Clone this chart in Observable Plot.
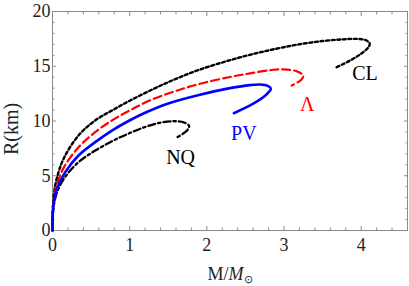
<!DOCTYPE html>
<html>
<head>
<meta charset="utf-8">
<script src="https://cdn.jsdelivr.net/npm/d3@7"></script>
<script src="https://cdn.jsdelivr.net/npm/@observablehq/plot@0.6"></script>
<style>
  html, body { margin: 0; padding: 0; background: white; }
</style>
</head>
<body>
<div id="chart"></div>
<script>
// Series: M (solar masses) and R (km)
const clM  = [0, 0.001, 0.005, 0.02, 0.06, 0.15, 0.337, 0.553, 0.77, 1.0, 1.3, 1.6, 1.91, 2.25, 2.56, 2.9, 3.21, 3.5, 3.75, 3.94, 4.05, 4.11, 4.09, 3.99, 3.85, 3.68];
const clR  = [0, 1.25, 2.14, 3.39, 4.89, 6.64, 8.68, 10.05, 10.96, 11.85, 12.9, 13.85, 14.7, 15.45, 16.05, 16.6, 17.02, 17.3, 17.45, 17.5, 17.4, 17.1, 16.7, 16.1, 15.5, 14.91];

const lamM = [0, 0.001, 0.005, 0.02, 0.06, 0.15, 0.337, 0.553, 0.77, 1.0, 1.27, 1.6, 1.91, 2.3, 2.56, 2.86, 3.05, 3.18, 3.25, 3.22, 3.1];
const lamR = [0, 1.09, 1.86, 2.95, 4.26, 5.79, 7.6, 8.98, 10.05, 10.96, 11.9, 12.75, 13.4, 14.02, 14.35, 14.68, 14.7, 14.5, 14.15, 13.75, 13.24];

const pvM  = [0, 0.001, 0.005, 0.02, 0.06, 0.165, 0.337, 0.553, 0.77, 0.985, 1.2, 1.5, 1.91, 2.3, 2.56, 2.69, 2.79, 2.83, 2.79, 2.73, 2.56, 2.35];
const pvR  = [0, 0.98, 1.68, 2.67, 3.85, 5.33, 6.85, 8.07, 9.13, 10.0, 10.75, 11.6, 12.4, 13.0, 13.28, 13.33, 13.2, 12.94, 12.55, 12.17, 11.42, 10.71];

const nqM  = [0, 0.001, 0.005, 0.02, 0.06, 0.15, 0.337, 0.553, 0.77, 0.985, 1.2, 1.4, 1.57, 1.7, 1.77, 1.74, 1.61];
const nqR  = [0, 0.9, 1.53, 2.43, 3.51, 4.76, 6.24, 7.3, 8.15, 8.85, 9.45, 9.85, 9.98, 9.87, 9.55, 9.1, 8.5];

// Curve labels
const labelText = ["CL", "Λ", "PV", "NQ"];
const labelM    = [4.05, 3.30, 2.48, 1.66];
const labelR    = [14.37, 11.46, 8.87, 6.69];
const labelColor = ["black", "#ff0000", "#0000ff", "black"];

// Ticks
const xTickValues = [0, 1, 2, 3, 4];
const xTickLabels = ["0", "1", "2", "3", "4"];
const yTickValues = [0, 5, 10, 15, 20];
const yTickLabels = ["0", "5", "10", "15", "20"];
const xMinorTicks = [0.2,0.4,0.6,0.8,1.2,1.4,1.6,1.8,2.2,2.4,2.6,2.8,3.2,3.4,3.6,3.8,4.2,4.4];
const yMinorTicks = [1,2,3,4,6,7,8,9,11,12,13,14,16,17,18,19];

const toRows = (M, R) => M.map((m, i) => ({m, r: R[i]}));
const cl = toRows(clM, clR), lam = toRows(lamM, lamR), pv = toRows(pvM, pvR), nq = toRows(nqM, nqR);
const labels = labelText.map((t, i) => ({t, m: labelM[i], r: labelR[i], c: labelColor[i]}));

const frameColor = "#8a8a8a";
const font = "'Liberation Serif', 'Times New Roman', serif";
const noText = () => "";

const chart = Plot.plot({
  width: 409,
  height: 286,
  marginLeft: 52,
  marginRight: 2,
  marginTop: 11,
  marginBottom: 56,
  x: {domain: [0, 4.6]},
  y: {domain: [0, 20]},
  style: {fontFamily: font, background: "white", overflow: "visible"},
  marks: [
    // inward ticks on all four sides
    Plot.axisX(xTickValues, {anchor: "bottom", tickSize: 4, dy: -4, tickFormat: noText, label: null, stroke: frameColor}),
    Plot.axisX(xMinorTicks, {anchor: "bottom", tickSize: 2.5, dy: -2.5, tickFormat: noText, label: null, stroke: frameColor}),
    Plot.axisX(xTickValues, {anchor: "top", tickSize: 4, dy: 4, tickFormat: noText, label: null, stroke: frameColor}),
    Plot.axisX(xMinorTicks, {anchor: "top", tickSize: 2.5, dy: 2.5, tickFormat: noText, label: null, stroke: frameColor}),
    Plot.axisY(yTickValues, {anchor: "left", tickSize: 4, dx: 4, tickFormat: noText, label: null, stroke: frameColor}),
    Plot.axisY(yMinorTicks, {anchor: "left", tickSize: 2.5, dx: 2.5, tickFormat: noText, label: null, stroke: frameColor}),
    Plot.axisY(yTickValues, {anchor: "right", tickSize: 4, dx: -4, tickFormat: noText, label: null, stroke: frameColor}),
    Plot.axisY(yMinorTicks, {anchor: "right", tickSize: 2.5, dx: -2.5, tickFormat: noText, label: null, stroke: frameColor}),
    // tick labels
    Plot.axisX(xTickValues, {anchor: "bottom", tickSize: 0, tickPadding: 8, tickFormat: (d, i) => xTickLabels[i], label: null, fontSize: 18, fill: "#222"}),
    Plot.axisY(yTickValues, {anchor: "left", tickSize: 0, tickPadding: 2, tickFormat: (d, i) => yTickLabels[i], label: null, fontSize: 18, fill: "#222"}),
    Plot.frame({stroke: frameColor, strokeWidth: 1}),
    // curves
    Plot.line(cl, {x: "m", y: "r", stroke: "black", strokeWidth: 2.4, strokeDasharray: "3,2.6", curve: "catmull-rom"}),
    Plot.line(lam, {x: "m", y: "r", stroke: "#ff0000", strokeWidth: 2.2, strokeDasharray: "8,4", curve: "catmull-rom"}),
    Plot.line(nq, {x: "m", y: "r", stroke: "black", strokeWidth: 2.3, strokeDasharray: "7,3,2.5,3", curve: "catmull-rom"}),
    Plot.line(pv, {x: "m", y: "r", stroke: "#0000ff", strokeWidth: 2.6, curve: "catmull-rom"}),
    // curve labels
    Plot.text(labels, {x: "m", y: "r", text: "t", fill: "c", fontSize: 20, textAnchor: "middle", lineAnchor: "middle"}),
    // y axis label
    Plot.text(["R(km)"], {text: d => d, frameAnchor: "left", rotate: -90, dx: -41, dy: 8, fontSize: 20, fill: "#222", textAnchor: "middle"})
  ]
});

document.getElementById("chart").appendChild(chart);

// x axis label with italic M and subscript sun symbol
const svg = d3.select(chart.tagName.toLowerCase() === "svg" ? chart : chart.querySelector("svg"));
const xl = svg.append("text")
  .attr("x", 230)
  .attr("y", 280)
  .attr("text-anchor", "middle")
  .attr("font-family", font)
  .attr("font-size", 18)
  .attr("fill", "#222");
xl.append("tspan").text("M/");
xl.append("tspan").attr("font-style", "italic").text("M");
xl.append("tspan").attr("font-size", 11).attr("dy", 3).text("⊙");
</script>
</body>
</html>
